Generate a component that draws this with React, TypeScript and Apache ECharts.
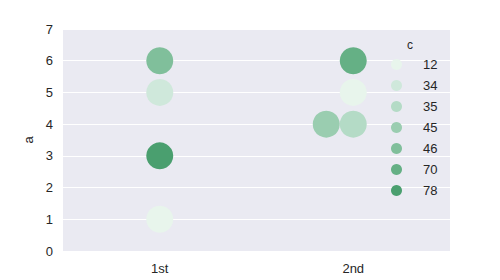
import React, { useEffect, useRef } from "react";
import * as echarts from "echarts";

const categories = ["1st", "2nd"];
const pointCategory = ["1st", "1st", "1st", "1st", "2nd", "2nd", "2nd", "2nd"];
const aValues = [6, 5, 3, 1, 6, 5, 4, 4];
const cValues = [46, 34, 78, 12, 70, 12, 35, 45];
const cLevels = [12, 34, 35, 45, 46, 70, 78];
const levelColors = ["#e8f5ec", "#cfe8db", "#b4dbc6", "#9acdb0", "#80bf9b", "#65b085", "#4a9f6f"];
const yTicks = [0, 7, 1];

const FONT = "Liberation Sans, Arial, sans-serif";
const TEXT = "#262626";
const DOT = 27;

export default function App() {
  const ref = useRef<HTMLDivElement>(null);
  useEffect(() => {
    if (!ref.current) return;
    const chart = echarts.init(ref.current, undefined, { renderer: "svg" });

    // swarm dodge: later points sharing the same spot shift left by one diameter
    const seen: Record<string, number> = {};
    const offsets = pointCategory.map((cat, i) => {
      const key = cat + "|" + aValues[i];
      const k = seen[key] || 0;
      seen[key] = k + 1;
      return -k * DOT;
    });

    const series = cLevels.map((lv, li) => ({
      name: String(lv),
      type: "scatter",
      symbol: "circle",
      symbolSize: DOT,
      itemStyle: { color: levelColors[li], opacity: 1 },
      data: pointCategory
        .map((cat, i) => ({ cat, i }))
        .filter(({ i }) => cValues[i] === lv)
        .map(({ cat, i }) => ({ value: [cat, aValues[i]], symbolOffset: [offsets[i], 0] })),
      z: 3,
    }));

    chart.setOption({
      animation: false,
      textStyle: { fontFamily: FONT },
      grid: {
        left: 63,
        right: 50,
        top: 29,
        bottom: 29,
        show: true,
        backgroundColor: "#EAEAF2",
        borderWidth: 0,
      },
      xAxis: {
        type: "category",
        data: categories,
        boundaryGap: true,
        axisLine: { show: false },
        axisTick: { show: false },
        splitLine: { show: false },
        axisLabel: { color: TEXT, fontSize: 13, fontFamily: FONT, margin: 11 },
      },
      yAxis: {
        type: "value",
        min: yTicks[0],
        max: yTicks[1],
        interval: yTicks[2],
        name: "a",
        nameLocation: "middle",
        nameGap: 28,
        nameRotate: 90,
        nameTextStyle: { color: TEXT, fontSize: 13, fontFamily: FONT },
        axisLine: { show: false },
        axisTick: { show: false },
        splitLine: { show: true, lineStyle: { color: "#ffffff", width: 1 } },
        axisLabel: { color: TEXT, fontSize: 13, fontFamily: FONT, margin: 10 },
      },
      legend: {
        orient: "vertical",
        left: 391,
        top: 58,
        icon: "circle",
        itemWidth: 11,
        itemHeight: 11,
        itemGap: 8,
        padding: 0,
        data: cLevels.map(String),
        textStyle: { color: TEXT, fontSize: 13, fontFamily: FONT, padding: [0, 0, 0, 16] },
      },
      graphic: [
        {
          type: "text",
          left: 407,
          top: 39,
          style: { text: "c", fill: TEXT, font: `12px ${FONT}` },
        },
      ],
      series,
    });
    return () => chart.dispose();
  }, []);
  return (
    <div
      ref={ref}
      style={{ position: "fixed", left: 0, top: 0, width: 500, height: 280, background: "#ffffff" }}
    />
  );
}
